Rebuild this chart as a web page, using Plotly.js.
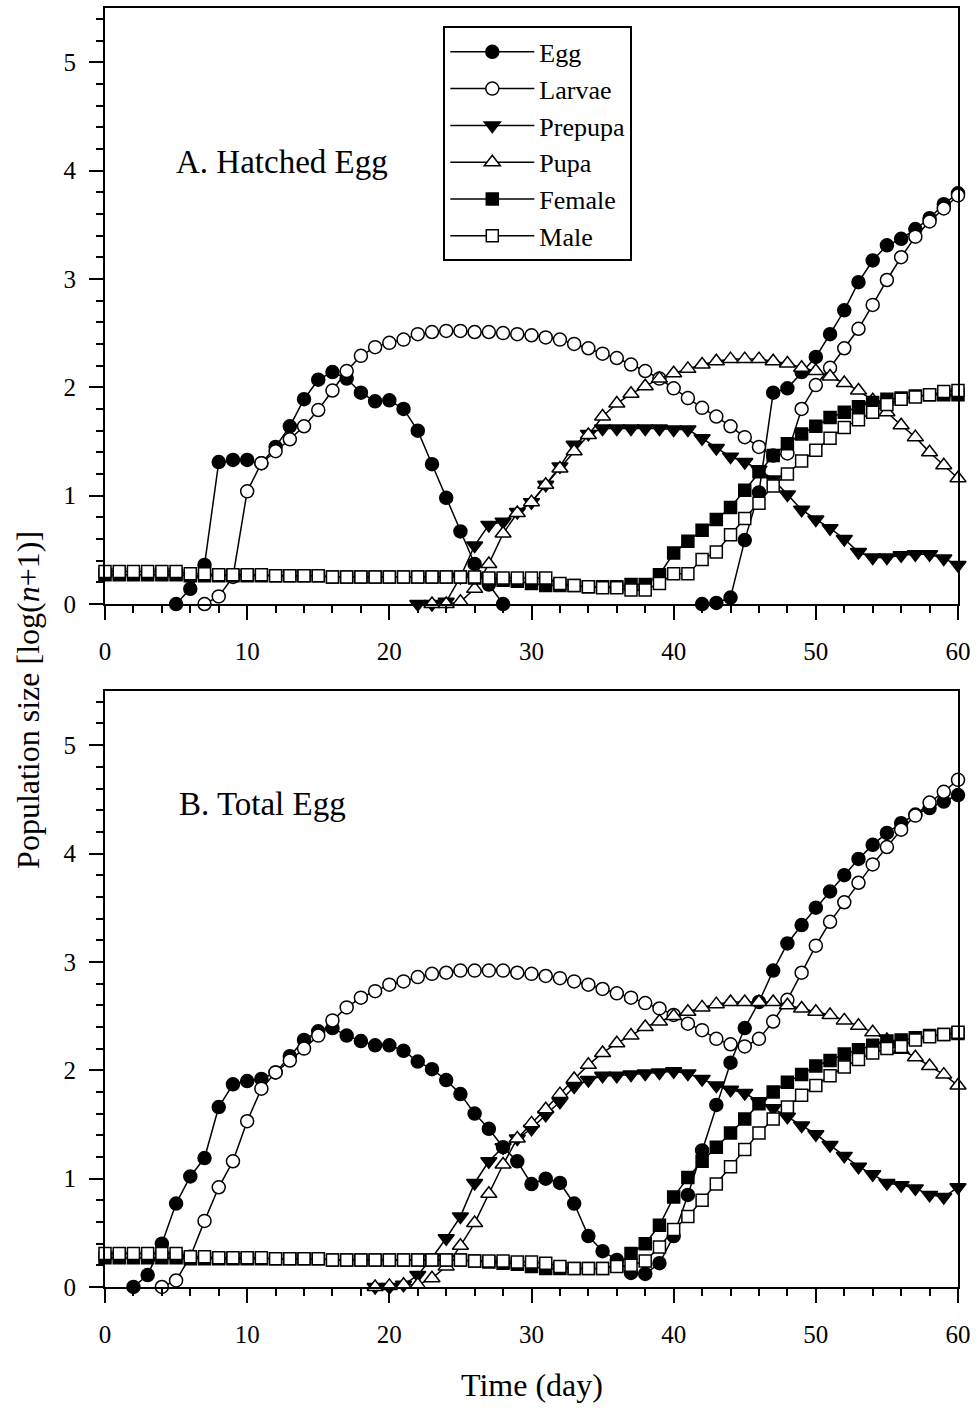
<!DOCTYPE html>
<html>
<head>
<meta charset="utf-8">
<script src="https://cdn.plot.ly/plotly-3.0.1.min.js"></script>
<style>html,body{margin:0;padding:0;background:#fff;}#chart{width:979px;height:1408px;}</style>
</head>
<body>
<div id="chart"></div>
<script>
// Day axis (days 0..60)
var days = [0,1,2,3,4,5,6,7,8,9,10,11,12,13,14,15,16,17,18,19,20,21,22,23,24,25,26,27,28,29,30,
  31,32,33,34,35,36,37,38,39,40,41,42,43,44,45,46,47,48,49,50,51,52,53,54,55,56,57,58,59,60];

var seriesNames = ["Egg","Larvae","Prepupa","Pupa","Female","Male"];
var xTickVals = [0,10,20,30,40,50,60];
var yTickVals = [0,1,2,3,4,5];

// ---- Panel A: Hatched Egg ----
var eggA = [null,null,null,null,null,0.00,0.14,0.36,1.31,1.33,
  1.33,1.30,1.45,1.64,1.89,2.07,2.14,2.08,1.95,1.87,
  1.88,1.80,1.60,1.29,0.98,0.67,0.37,0.18,0.00,null,
  null,null,null,null,null,null,null,null,null,null,
  null,null,0.00,0.01,0.06,0.59,1.03,1.95,1.99,2.14,
  2.28,2.49,2.71,2.97,3.17,3.31,3.37,3.46,3.56,3.69,
  3.79];
var larvaeA = [null,null,null,null,null,null,null,0.00,0.07,0.25,
  1.04,1.30,1.41,1.52,1.64,1.79,1.97,2.15,2.29,2.37,
  2.41,2.44,2.49,2.51,2.52,2.52,2.51,2.51,2.50,2.49,
  2.48,2.46,2.44,2.40,2.36,2.31,2.27,2.21,2.15,2.08,
  1.99,1.90,1.81,1.73,1.64,1.54,1.45,1.37,1.39,1.80,
  2.02,2.18,2.36,2.54,2.76,2.99,3.20,3.39,3.53,3.65,
  3.77];
var prepupaA = [null,null,null,null,null,null,null,null,null,null,
  null,null,null,null,null,null,null,null,null,null,
  null,null,0.00,0.00,0.02,0.25,0.54,0.73,0.76,0.85,
  0.94,1.10,1.27,1.47,1.57,1.62,1.62,1.62,1.62,1.62,
  1.61,1.61,1.53,1.44,1.36,1.31,1.24,1.15,1.01,0.87,
  0.78,0.70,0.60,0.48,0.43,0.43,0.45,0.46,0.46,0.42,
  0.36];
var pupaA = [null,null,null,null,null,null,null,null,null,null,
  null,null,null,null,null,null,null,null,null,null,
  null,null,null,0.00,0.00,0.02,0.14,0.37,0.65,0.84,
  0.94,1.10,1.25,1.41,1.56,1.73,1.85,1.94,2.01,2.08,
  2.13,2.17,2.21,2.24,2.26,2.26,2.26,2.24,2.22,2.18,
  2.15,2.10,2.04,1.97,1.88,1.77,1.65,1.54,1.40,1.28,
  1.16];
var femaleA = [0.27,0.27,0.27,0.27,0.27,0.27,0.26,0.26,0.26,0.26,
  0.26,0.26,0.26,0.26,0.26,0.26,0.25,0.25,0.25,0.25,
  0.25,0.25,0.25,0.25,0.25,0.25,0.24,0.23,0.22,0.21,
  0.19,0.17,0.17,0.17,0.16,0.16,0.16,0.18,0.18,0.27,
  0.47,0.58,0.68,0.78,0.89,1.05,1.22,1.37,1.48,1.57,
  1.64,1.72,1.77,1.82,1.86,1.89,1.90,1.92,1.93,1.93,
  1.93];
var maleA = [0.30,0.30,0.30,0.30,0.30,0.30,0.28,0.28,0.27,0.27,
  0.27,0.27,0.26,0.26,0.26,0.26,0.25,0.25,0.25,0.25,
  0.25,0.25,0.25,0.25,0.25,0.25,0.25,0.24,0.24,0.24,
  0.24,0.24,0.19,0.17,0.16,0.15,0.15,0.13,0.13,0.19,
  0.28,0.28,0.41,0.48,0.64,0.79,0.93,1.09,1.20,1.32,
  1.42,1.53,1.63,1.70,1.77,1.84,1.89,1.91,1.93,1.96,
  1.97];

// ---- Panel B: Total Egg ----
var eggB = [null,null,0.00,0.11,0.40,0.77,1.02,1.19,1.66,1.87,
  1.90,1.92,1.98,2.13,2.28,2.36,2.39,2.32,2.27,2.23,
  2.23,2.18,2.08,2.01,1.91,1.78,1.60,1.46,1.29,1.16,
  0.95,1.00,0.96,0.77,0.47,0.33,0.25,0.13,0.12,0.22,
  0.47,0.85,1.26,1.68,2.07,2.39,2.63,2.92,3.17,3.34,
  3.50,3.65,3.80,3.95,4.08,4.19,4.28,4.36,4.42,4.48,
  4.54];
var larvaeB = [null,null,null,null,0.00,0.06,0.28,0.61,0.92,1.16,
  1.53,1.83,1.98,2.09,2.20,2.32,2.46,2.58,2.67,2.73,
  2.79,2.82,2.86,2.89,2.90,2.92,2.92,2.92,2.92,2.90,
  2.89,2.87,2.85,2.82,2.79,2.75,2.71,2.67,2.62,2.57,
  2.51,2.43,2.37,2.29,2.24,2.22,2.29,2.45,2.65,2.90,
  3.15,3.37,3.55,3.73,3.90,4.06,4.22,4.35,4.47,4.57,
  4.68];
var prepupaB = [null,null,null,null,null,null,null,null,null,null,
  null,null,null,null,null,null,null,null,null,0.00,
  0.00,0.02,0.11,0.27,0.45,0.65,0.96,1.16,1.29,1.37,
  1.46,1.59,1.71,1.85,1.91,1.95,1.95,1.96,1.97,1.98,
  1.99,1.97,1.92,1.86,1.82,1.79,1.71,1.65,1.57,1.49,
  1.41,1.31,1.21,1.11,1.04,0.96,0.94,0.91,0.85,0.83,
  0.92];
var pupaB = [null,null,null,null,null,null,null,null,null,null,
  null,null,null,null,null,null,null,null,null,0.00,
  0.01,0.02,0.02,0.08,0.19,0.38,0.59,0.86,1.13,1.37,
  1.51,1.64,1.78,1.92,2.05,2.16,2.25,2.32,2.40,2.45,
  2.50,2.54,2.58,2.61,2.63,2.63,2.63,2.63,2.60,2.57,
  2.54,2.51,2.46,2.41,2.35,2.28,2.19,2.12,2.04,1.96,
  1.86];
var femaleB = [0.27,0.27,0.27,0.27,0.27,0.27,0.26,0.26,0.26,0.26,
  0.26,0.26,0.26,0.26,0.26,0.26,0.25,0.25,0.25,0.25,
  0.25,0.25,0.25,0.25,0.25,0.25,0.24,0.23,0.22,0.21,
  0.19,0.17,0.17,0.17,0.17,0.17,0.20,0.31,0.40,0.57,
  0.83,1.01,1.16,1.29,1.42,1.55,1.69,1.80,1.89,1.96,
  2.04,2.09,2.15,2.19,2.23,2.27,2.28,2.30,2.32,2.33,
  2.34];
var maleB = [0.31,0.31,0.31,0.31,0.31,0.31,0.28,0.28,0.27,0.27,
  0.27,0.27,0.26,0.26,0.26,0.26,0.25,0.25,0.25,0.25,
  0.25,0.25,0.25,0.25,0.25,0.25,0.24,0.24,0.24,0.23,
  0.23,0.22,0.19,0.17,0.17,0.17,0.19,0.20,0.24,0.37,
  0.53,0.65,0.80,0.95,1.11,1.27,1.42,1.55,1.66,1.77,
  1.86,1.95,2.03,2.10,2.16,2.20,2.22,2.28,2.31,2.33,
  2.35];

// ---- styling ----
var FONT = "Liberation Serif, Times New Roman, serif";
var styles = [
  {symbol:"circle", fill:"#000", size:13},
  {symbol:"circle", fill:"#fff", size:13},
  {symbol:"triangle-down", fill:"#000", size:14},
  {symbol:"triangle-up", fill:"#fff", size:14},
  {symbol:"square", fill:"#000", size:12},
  {symbol:"square", fill:"#fff", size:12}
];
var panelA = [eggA, larvaeA, prepupaA, pupaA, femaleA, maleA];
var panelB = [eggB, larvaeB, prepupaB, pupaB, femaleB, maleB];

function mk(vals, i, xa, ya, showLeg) {
  var s = styles[i];
  return {
    type: "scatter", mode: "lines+markers",
    x: days, y: vals, xaxis: xa, yaxis: ya,
    name: seriesNames[i], showlegend: showLeg, legendgroup: seriesNames[i],
    connectgaps: false, cliponaxis: false,
    line: {color: "#000", width: 1.5},
    marker: {symbol: s.symbol, size: s.size, color: s.fill, line: {color: "#000", width: 1.5}}
  };
}
var traces = [];
for (var i = 0; i < 6; i++) traces.push(mk(panelA[i], i, "x", "y", true));
for (var j = 0; j < 6; j++) traces.push(mk(panelB[j], j, "x2", "y2", false));

function xax(anchor) {
  return {
    anchor: anchor, domain: [0, 1], range: [0, 60],
    showline: true, linecolor: "#000", linewidth: 2, mirror: true,
    showgrid: false, zeroline: false,
    ticks: "outside", ticklen: 14, tickwidth: 2, tickcolor: "#000",
    tickvals: xTickVals, ticktext: xTickVals.map(String),
    minor: {dtick: 2, tick0: 0, ticks: "outside", ticklen: 7, tickwidth: 2, tickcolor: "#000", showgrid: false},
    tickfont: {family: FONT, size: 25, color: "#000"},
    ticklabelstandoff: 10
  };
}
function yax(anchor, dom) {
  return {
    anchor: anchor, domain: dom, range: [0, 5.5],
    showline: true, linecolor: "#000", linewidth: 2, mirror: true,
    showgrid: false, zeroline: false,
    ticks: "outside", ticklen: 14, tickwidth: 2, tickcolor: "#000",
    tickvals: yTickVals, ticktext: yTickVals.map(String),
    minor: {dtick: 0.2, tick0: 0, ticks: "outside", ticklen: 7, tickwidth: 2, tickcolor: "#000", showgrid: false},
    tickfont: {family: FONT, size: 25, color: "#000"},
    ticklabelstandoff: 8
  };
}

var layout = {
  width: 979, height: 1408,
  margin: {l: 105, r: 21, t: 8, b: 121, pad: 0},
  paper_bgcolor: "#fff", plot_bgcolor: "#fff",
  font: {family: FONT, color: "#000"},
  xaxis: xax("y"),
  yaxis: yax("x", [0.534, 1]),
  xaxis2: xax("y2"),
  yaxis2: yax("x2", [0, 0.466]),
  showlegend: true,
  legend: {
    x: 0.3966, y: 0.9856, xanchor: "left", yanchor: "top",
    bgcolor: "#fff", bordercolor: "#000", borderwidth: 2,
    font: {family: FONT, size: 26, color: "#000"},
    itemwidth: 84, tracegroupgap: 0
  },
  annotations: [
    {xref: "x", yref: "y", x: 4.85, y: 4.08, xanchor: "left", yanchor: "middle",
     text: "A. Hatched Egg", showarrow: false, font: {family: FONT, size: 33, color: "#000"}},
    {xref: "x2", yref: "y2", x: 5.05, y: 4.46, xanchor: "left", yanchor: "middle",
     text: "B. Total Egg", showarrow: false, font: {family: FONT, size: 33, color: "#000"}},
    {xref: "paper", yref: "paper", x: 0.501, y: -0.0766, xanchor: "center", yanchor: "middle",
     text: "Time (day)", showarrow: false, font: {family: FONT, size: 32, color: "#000"}},
    {xref: "paper", yref: "paper", x: -0.0903, y: 0.459, xanchor: "center", yanchor: "middle",
     textangle: -90, text: "Population size [log(<i>n</i>+1)]", showarrow: false,
     font: {family: FONT, size: 32, color: "#000"}}
  ]
};

Plotly.newPlot("chart", traces, layout, {staticPlot: true, displayModeBar: false});
</script>
</body>
</html>
